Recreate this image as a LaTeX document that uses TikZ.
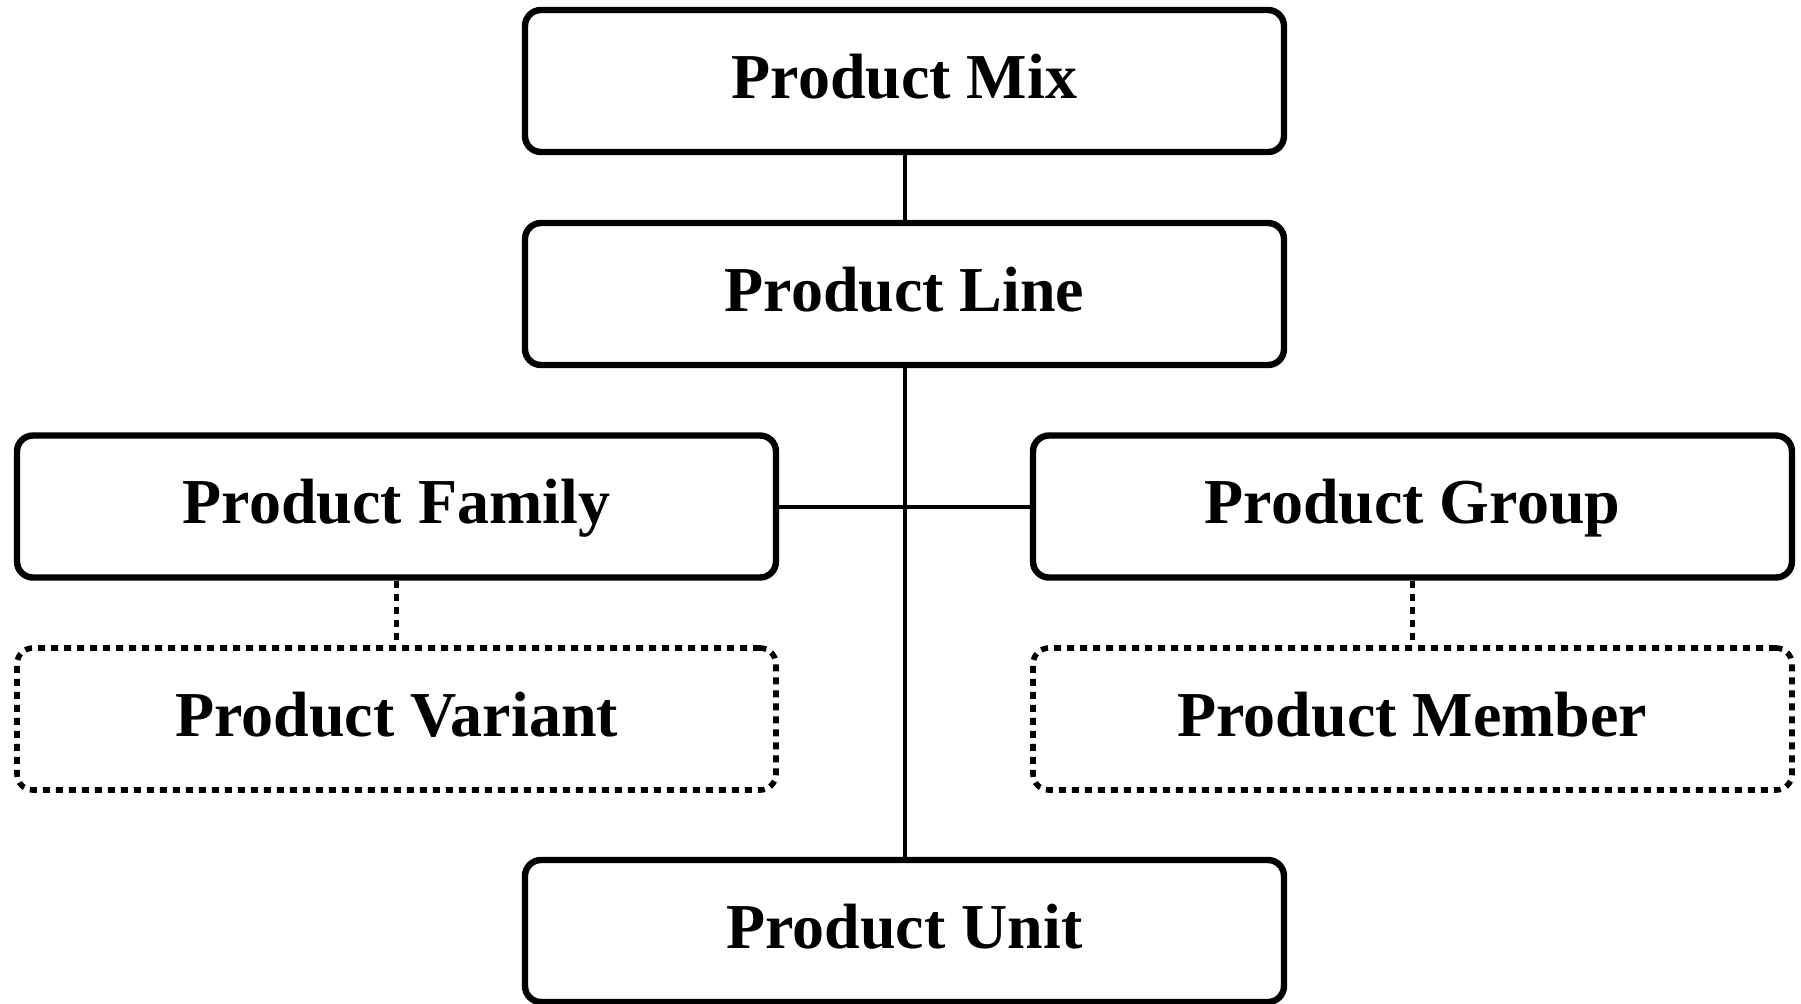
\documentclass[tikz,border=0pt]{standalone}
\usepackage{fontspec}
\setmainfont{Liberation Serif}
\begin{document}
\begin{tikzpicture}[x=0.5pt,y=-0.5pt,
  box/.style={draw, line width=3.2pt, rounded corners=8pt,
    minimum width=379.5pt, minimum height=71pt, inner sep=0pt,
    text height=25pt, text depth=8pt,
    font=\fontsize{32}{38}\selectfont\bfseries},
  optbox/.style={box, line width=2.8pt, dash pattern=on 3.5pt off 3pt},
  link/.style={line width=2pt},
  optlink/.style={line width=2.8pt, dash pattern=on 3.5pt off 3pt}]
\useasboundingbox (0,0) rectangle (1801,1003);

% hierarchy levels
\node[box] (mix)     at (904.5,81)    {Product Mix};
\node[box] (line)    at (904.5,294)   {Product Line};
\node[box] (family)  at (396.5,506.5) {Product Family};
\node[box] (group)   at (1412.5,506.5){Product Group};
\node[optbox] (variant) at (396.5,719)  {Product Variant};
\node[optbox] (member)  at (1412.5,719) {Product Member};
\node[box] (unit)    at (904.5,931)   {Product Unit};

% connectors
\draw[link] (mix.south) -- (line.north);
\draw[link] (line.south) -- (unit.north);
\draw[link] (family.east) -- (group.west);
\draw[optlink] (family.south) -- (variant.north);
\draw[optlink] (group.south) -- (member.north);
\end{tikzpicture}
\end{document}
